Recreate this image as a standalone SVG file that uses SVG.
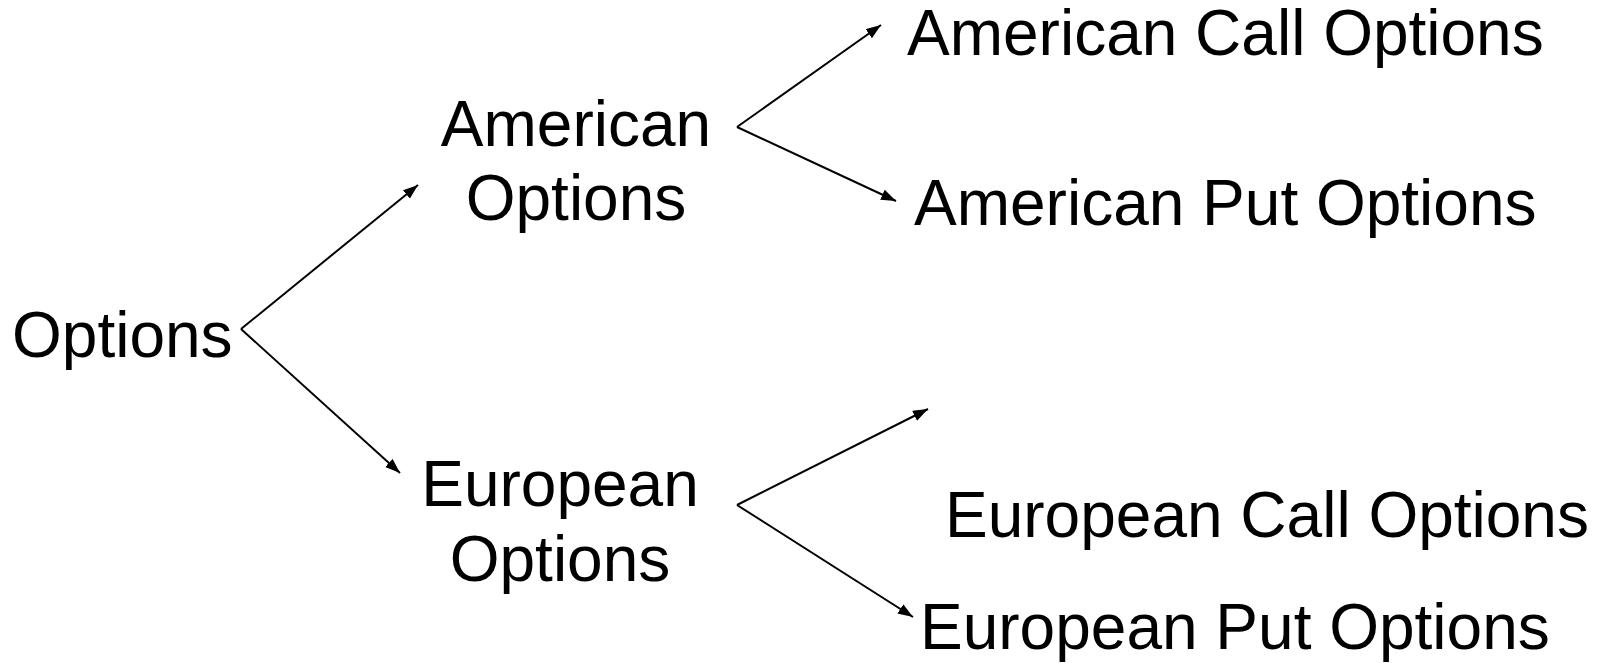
<svg xmlns="http://www.w3.org/2000/svg" width="1598" height="663" viewBox="0 0 1598 663">
<defs>
<style>
text{font-family:"Liberation Sans",Arial,sans-serif;font-size:64px;fill:#000}
.c{stroke:#000;stroke-width:2;fill:none}
</style>
<marker id="ah" markerUnits="userSpaceOnUse" markerWidth="16" markerHeight="12" refX="15" refY="5.5" orient="auto">
<path d="M0,0 L15,5.5 L0,11 Z" fill="#000"/>
</marker>
</defs>
<rect width="1598" height="663" fill="#fff"/>
<g id="connectors">
<line class="c" x1="241" y1="329" x2="418" y2="185" marker-end="url(#ah)"/>
<line class="c" x1="241" y1="329" x2="400" y2="473" marker-end="url(#ah)"/>
<line class="c" x1="737" y1="127" x2="881" y2="25" marker-end="url(#ah)"/>
<line class="c" x1="737" y1="127" x2="896" y2="201" marker-end="url(#ah)"/>
<line class="c" x1="737" y1="505" x2="928" y2="409" marker-end="url(#ah)"/>
<line class="c" x1="737" y1="505" x2="913" y2="617" marker-end="url(#ah)"/>
</g>
<g id="options"><text x="12" y="357">Options</text></g>
<g id="american-options"><text x="576" y="146" text-anchor="middle">American</text><text x="576" y="220" text-anchor="middle">Options</text></g>
<g id="european-options"><text x="560" y="506" text-anchor="middle">European</text><text x="560" y="581" text-anchor="middle">Options</text></g>
<g id="american-call"><text x="907" y="55">American Call Options</text></g>
<g id="american-put"><text x="914" y="225">American Put Options</text></g>
<g id="european-call"><text x="945" y="537">European Call Options</text></g>
<g id="european-put"><text x="920" y="649">European Put Options</text></g>
</svg>
